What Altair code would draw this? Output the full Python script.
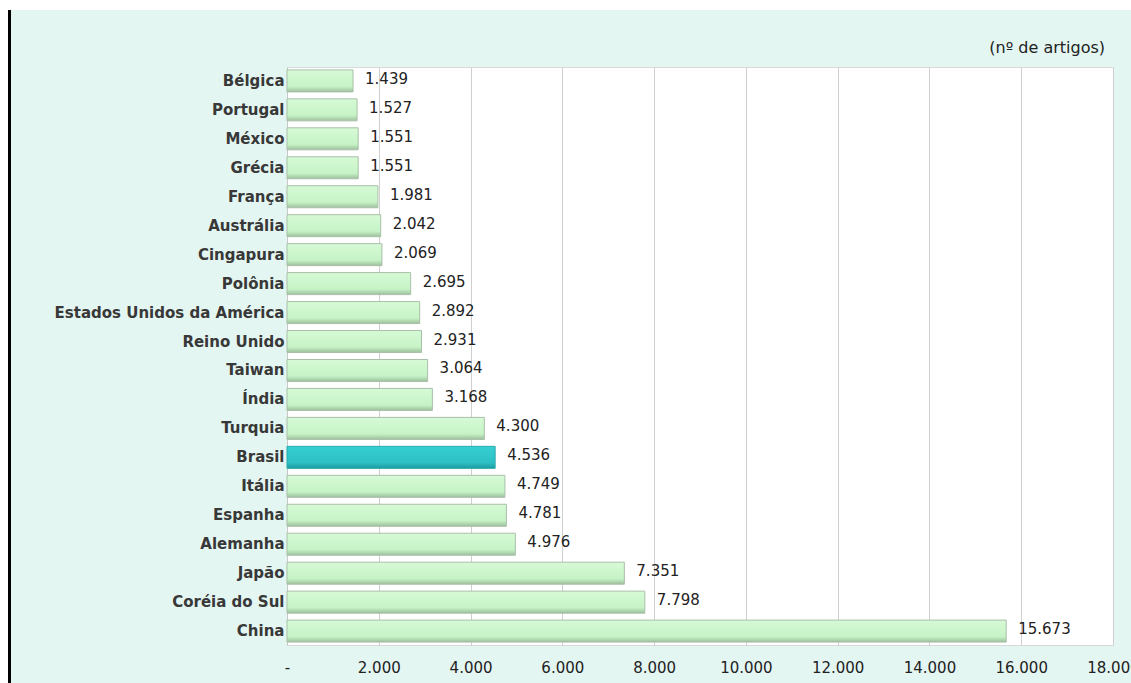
import altair as alt
import pandas as pd

# Artigos publicados por país (nº de artigos)
paises = [
    "Bélgica", "Portugal", "México", "Grécia", "França", "Austrália",
    "Cingapura", "Polônia", "Estados Unidos da América", "Reino Unido",
    "Taiwan", "Índia", "Turquia", "Brasil", "Itália", "Espanha",
    "Alemanha", "Japão", "Coréia do Sul", "China",
]
artigos = [
    1439, 1527, 1551, 1551, 1981, 2042, 2069, 2695, 2892, 2931,
    3064, 3168, 4300, 4536, 4749, 4781, 4976, 7351, 7798, 15673,
]
destaque = "Brasil"
marcas_eixo = [0, 2000, 4000, 6000, 8000, 10000, 12000, 14000, 16000, 18000]
unidade = "(nº de artigos)"

W, H = 826, 578
PAD = {"left": 287, "top": 67, "right": 18, "bottom": 38}

df = pd.DataFrame({"pais": paises, "artigos": artigos})
df["rotulo"] = [f"{v:,}".replace(",", ".") for v in artigos]

FONTE = "DejaVu Sans"
TEXTO = "#222222"

x_enc = alt.X(
    "artigos:Q",
    scale=alt.Scale(domain=[0, 18000], nice=False),
    axis=alt.Axis(
        title=None,
        values=marcas_eixo,
        labelExpr="datum.value == 0 ? '-' : replace(format(datum.value, ','), ',', '.')",
        labelFont=FONTE,
        labelFontSize=15,
        labelColor=TEXTO,
        labelPadding=15,
        labelFlush=False,
        labelOverlap=False,
        ticks=False,
        domain=False,
        grid=True,
        gridColor="#cfcfcf",
        gridWidth=1,
    ),
)
y_enc = alt.Y(
    "pais:N",
    sort=paises,
    scale=alt.Scale(paddingInner=0.24, paddingOuter=0.1),
    axis=alt.Axis(
        title=None,
        ticks=False,
        domain=True,
        domainColor="#c8c8c8",
        labelFont=FONTE,
        labelFontSize=15,
        labelFontWeight="bold",
        labelColor="#383838",
        labelPadding=3,
        labelLimit=0,
    ),
)

def gradiente(c_topo, c_meio, c_base):
    return alt.Gradient(
        gradient="linear",
        x1=0, x2=0, y1=0, y2=1,
        stops=[
            alt.GradientStop(color=c_topo, offset=0),
            alt.GradientStop(color=c_meio, offset=0.75),
            alt.GradientStop(color=c_base, offset=1),
        ],
    )

base = alt.Chart(df)

barras = base.transform_filter(alt.datum.pais != destaque).mark_bar(
    fill=gradiente("#d6fad6", "#c6f3c6", "#9dbf9d"),
    stroke="#a9bfa9",
    strokeWidth=1,
).encode(x=x_enc, y=y_enc)

barra_destaque = base.transform_filter(alt.datum.pais == destaque).mark_bar(
    fill=gradiente("#36cfd3", "#2cbfc3", "#1f9a9d"),
    stroke="#2aa9ad",
    strokeWidth=1,
).encode(x=x_enc, y=y_enc)

valores = base.mark_text(
    align="left", baseline="middle", dx=12, dy=-2,
    font=FONTE, fontSize=15, color=TEXTO,
).encode(x="artigos:Q", y=alt.Y("pais:N", sort=paises), text="rotulo:N")

um = alt.Chart(pd.DataFrame({"k": [0]}))

# moldura: faixa branca superior, margem branca e linha preta à esquerda
faixa_topo = um.mark_rect(color="white").encode(
    x=alt.value(-PAD["left"]), x2=alt.value(W + PAD["right"]),
    y=alt.value(-PAD["top"]), y2=alt.value(-PAD["top"] + 10),
)
faixa_esq = um.mark_rect(color="white").encode(
    x=alt.value(-PAD["left"]), x2=alt.value(-PAD["left"] + 8),
    y=alt.value(-PAD["top"]), y2=alt.value(H + PAD["bottom"]),
)
linha_esq = um.mark_rect(color="black").encode(
    x=alt.value(-PAD["left"] + 8), x2=alt.value(-PAD["left"] + 11),
    y=alt.value(-PAD["top"] + 10), y2=alt.value(H + PAD["bottom"]),
)
titulo = um.mark_text(
    align="right", baseline="middle", font=FONTE, fontSize=16, color=TEXTO,
).encode(x=alt.value(W - 8), y=alt.value(-19), text=alt.value(unidade))

chart = alt.layer(
    barras, barra_destaque, valores, faixa_topo, faixa_esq, linha_esq, titulo
).properties(
    width=W,
    height=H,
    padding=PAD,
    autosize=alt.AutoSizeParams(type="none"),
    background="#e4f6f2",
).configure_view(
    fill="white",
    stroke="#d8d8d8",
)

chart.save("out.html", embed_options={"renderer": "svg", "actions": False})
